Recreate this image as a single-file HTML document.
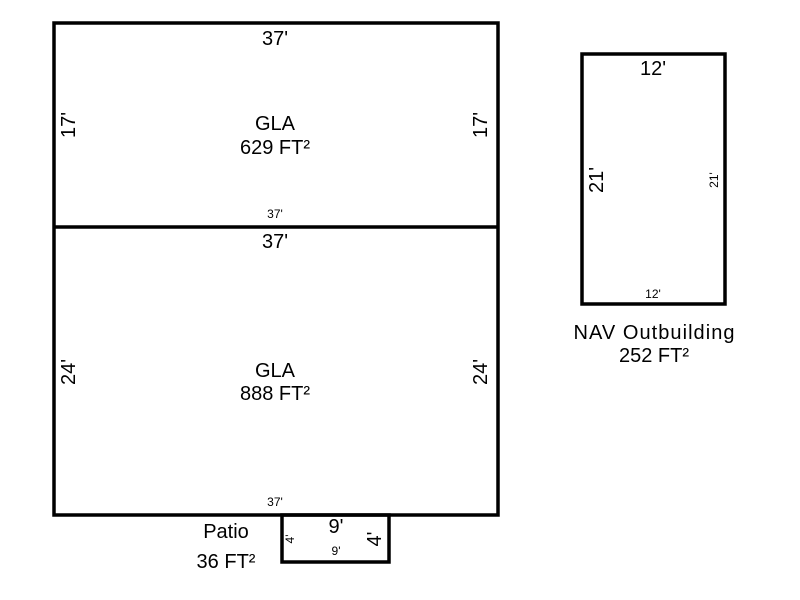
<!DOCTYPE html>
<html><head><style>body{margin:0;background:#fff}svg{display:block}</style></head>
<body>
<svg width="800" height="600" xmlns="http://www.w3.org/2000/svg" font-family="Liberation Sans, Arial, sans-serif" fill="#000">
<g fill="none" stroke="#000" stroke-width="3.5">
<rect x="54" y="23" width="444" height="492"/>
<line x1="54" y1="227" x2="498" y2="227"/>
<rect x="582" y="54" width="143" height="250"/>
<rect x="282" y="515" width="107" height="47"/>
</g>
<g font-size="20" text-anchor="middle">
<text x="275" y="45">37'</text>
<text x="275" y="130">GLA</text>
<text x="275" y="154">629 FT²</text>
<text x="275" y="248">37'</text>
<text x="275" y="377">GLA</text>
<text x="275" y="400">888 FT²</text>
<text x="653" y="75">12'</text>
<text x="654" y="339" textLength="161">NAV Outbuilding</text>
<text x="654" y="362">252 FT²</text>
<text x="226" y="538">Patio</text>
<text x="226" y="568">36 FT²</text>
<text x="336" y="533">9'</text>
<text transform="translate(75,125) rotate(-90)">17'</text>
<text transform="translate(487,125) rotate(-90)">17'</text>
<text transform="translate(75,372) rotate(-90)">24'</text>
<text transform="translate(487,372) rotate(-90)">24'</text>
<text transform="translate(603,180) rotate(-90)">21'</text>
<text transform="translate(381,539) rotate(-90)">4'</text>
</g>
<g font-size="12" text-anchor="middle">
<text x="275" y="218">37'</text>
<text x="275" y="506">37'</text>
<text x="653" y="298">12'</text>
<text x="336" y="555">9'</text>
<text transform="translate(718,180) rotate(-90)">21'</text>
<text transform="translate(294,539) rotate(-90)">4'</text>
</g>
</svg>
</body></html>
